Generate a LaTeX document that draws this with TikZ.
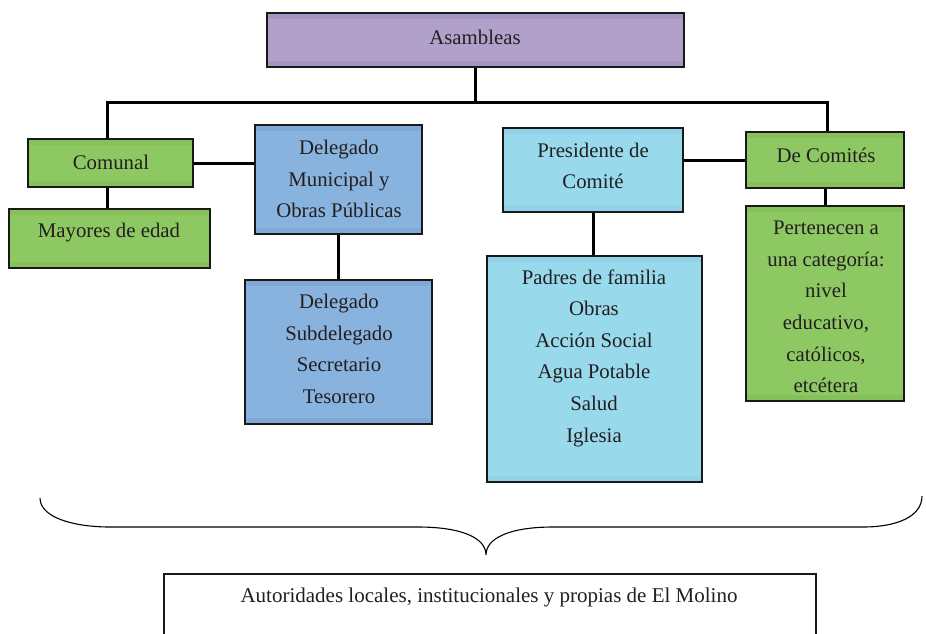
\documentclass[tikz,border=0pt]{standalone}
\usepackage{fontspec}
\setmainfont{Liberation Serif}
\definecolor{cPurple}{HTML}{B0A0CA}
\definecolor{cPurpleD}{HTML}{A694C3}
\definecolor{cGreen}{HTML}{8DC863}
\definecolor{cGreenD}{HTML}{85C05B}
\definecolor{cBlue}{HTML}{88B3DE}
\definecolor{cBlueD}{HTML}{80AAD6}
\definecolor{cLight}{HTML}{99D9EC}
\definecolor{cLightD}{HTML}{91D2E8}
\definecolor{cText}{HTML}{231F20}
\tikzset{
  bands/.style={path picture={
    \fill[#1] (path picture bounding box.north west) rectangle ([yshift=-6pt]path picture bounding box.north east);
    \fill[#1] (path picture bounding box.south west) rectangle ([yshift=6pt]path picture bounding box.south east);}},
  boxnode/.style={draw=black!90, line width=1.5pt, inner sep=0pt, rectangle},
  txt/.style={inner sep=0pt, align=center, text=cText,
    font=\fontsize{20.8}{31.6}\selectfont},
  conn/.style={line width=3pt, black},
}
\begin{document}
\begin{tikzpicture}[x=1pt,y=-1pt]
\useasboundingbox (0,0) rectangle (926,633);
\clip (0,0) rectangle (926,633);
% boxes: center (x,y), size w x h
\node[boxnode, fill=cPurple, bands=cPurpleD, minimum width=417pt, minimum height=54pt] (asam) at (475.5,40) {};
\node[boxnode, fill=cGreen, bands=cGreenD, minimum width=165pt, minimum height=48pt] (com) at (110.5,163) {};
\node[boxnode, fill=cGreen, bands=cGreenD, minimum width=201pt, minimum height=59pt] (may) at (109.5,238.5) {};
\node[boxnode, fill=cBlue, bands=cBlueD, minimum width=167pt, minimum height=109pt] (delm) at (338.5,179.5) {};
\node[boxnode, fill=cBlue, bands=cBlueD, minimum width=187pt, minimum height=144pt] (dlist) at (338.5,352) {};
\node[boxnode, fill=cLight, bands=cLightD, minimum width=180pt, minimum height=84pt] (pres) at (593,170) {};
\node[boxnode, fill=cLight, bands=cLightD, minimum width=215pt, minimum height=226pt] (padr) at (594.5,369) {};
\node[boxnode, fill=cGreen, bands=cGreenD, minimum width=158pt, minimum height=56pt] (dcom) at (825,160) {};
\node[boxnode, fill=cGreen, bands=cGreenD, minimum width=158pt, minimum height=195pt] (pert) at (825,303.5) {};
\node[boxnode, fill=white, minimum width=652pt, minimum height=100pt, anchor=north west] (aut) at (163,573) {};
% texts
\node[txt] (asamT) at (475,37) {Asambleas};
\node[txt] (comT) at (111,162) {Comunal};
\node[txt] (mayT) at (109,233) {Mayores de edad};
\node[txt] (delmT) at (339,179) {Delegado\\Municipal y\\Obras Públicas};
\node[txt] (dlistT) at (339,349) {Delegado\\Subdelegado\\Secretario\\Tesorero};
\node[txt] (presT) at (593,166) {Presidente de\\Comité};
\node[txt] (padrT) at (594,358) {Padres de familia\\Obras\\Acción Social\\Agua Potable\\Salud\\Iglesia};
\node[txt] (dcomT) at (826,155) {De Comités};
\node[txt] (pertT) at (826,307) {Pertenecen a\\una categoría:\\nivel\\educativo,\\católicos,\\etcétera};
\node[txt, font=\fontsize{21}{24}\selectfont] (autT) at (489,597) {Autoridades locales, institucionales y propias de El Molino};
% connectors
\coordinate (busL) at (107,102);
\coordinate (busR) at (827,102);
\draw[conn] (asam.south) -- (asam.south |- busL);
\draw[conn] (busL |- com.north) -- (busL) -- (busR) -- (busR |- dcom.north);
\draw[conn] (busL |- com.south) -- (busL |- may.north);
\draw[conn] (com.east) -- (com.east -| delm.west);
\draw[conn] (delm.south) -- (dlist.north);
\draw[conn] (dcom.west -| pres.east) -- (dcom.west);
\draw[conn] (pres.south) -- (pres.south |- padr.north);
\draw[conn] (dcom.south) -- (pert.north);
% brace
\draw[line width=1.1pt] (40,498) .. controls (40,518) and (75,527) .. (110,527) -- (418,527)
  .. controls (462,527) and (486,538) .. (486,555)
  .. controls (486,538) and (510,527) .. (553,527) -- (863,527)
  .. controls (896,527) and (922,517) .. (922,496);
\end{tikzpicture}
\end{document}
